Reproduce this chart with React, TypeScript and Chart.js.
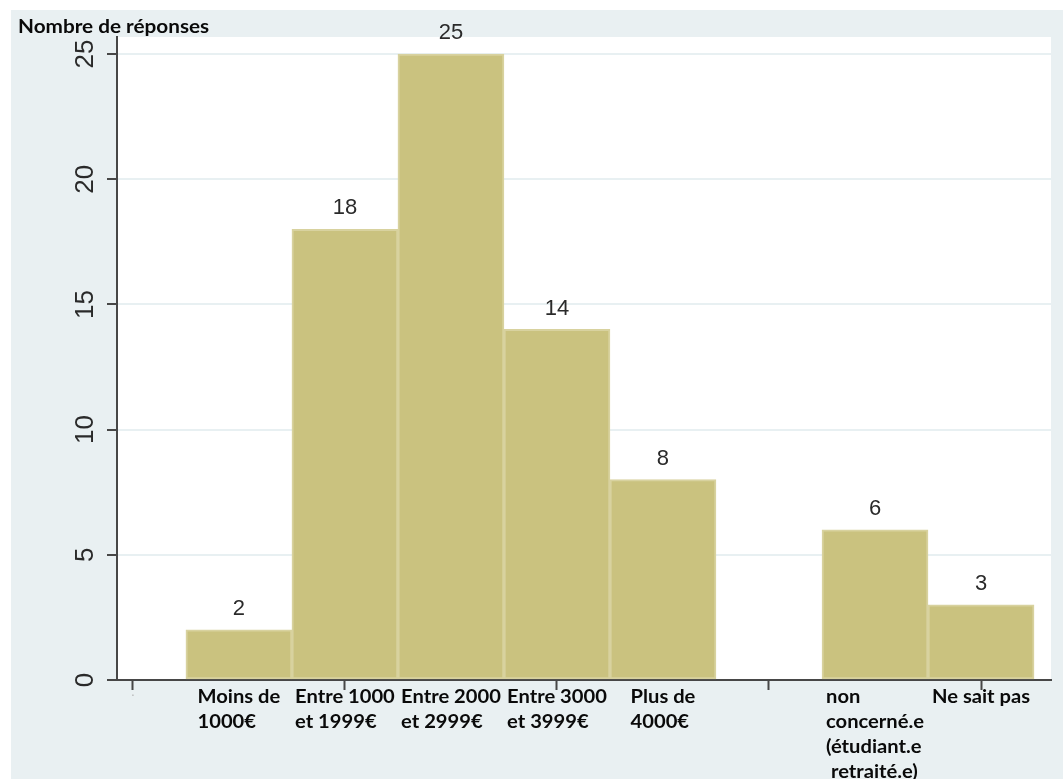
import React, { useEffect, useRef } from 'react';
import { Chart, registerables } from 'chart.js';

Chart.register(...registerables);

// ---- Data ----
const categoryLabels: string[][] = [
  ['Moins de', '1000€'],
  ['Entre 1000', 'et 1999€'],
  ['Entre 2000', 'et 2999€'],
  ['Entre 3000', 'et 3999€'],
  ['Plus de', '4000€'],
  ['non', 'concerné.e', '(étudiant.e', ' retraité.e)'],
  ['Ne sait pas'],
];
const barPositions = [1, 2, 3, 4, 5, 7, 8];
const responseCounts = [2, 18, 25, 14, 8, 6, 3];
const yTickValues = [0, 5, 10, 15, 20, 25];
const xTickValues = [0, 2, 4, 6, 8];
const xTickLabels = ['.', '', '', '', ''];
const yAxisTitle = 'Nombre de réponses';

// ---- Styles ----
const OUTER_BG = '#e9f0f2';
const GRID = '#e8f0f2';
const AXIS = '#474747';
const BAR_FILL = '#cac27f';
const BAR_BORDER = '#d8d29f';
const LABEL_FONT = '"Lato", "Open Sans", sans-serif';
const VALUE_FONT = '"Liberation Sans", Arial, sans-serif';
const STRETCH = 1.12;

function drawStretched(ctx: CanvasRenderingContext2D, text: string, x: number, y: number, sx: number) {
  ctx.save();
  ctx.translate(x, y);
  ctx.scale(sx, 1);
  ctx.fillText(text, 0, 0);
  ctx.restore();
}

const decorPlugin = {
  id: 'decor',
  beforeDraw(chart: any) {
    const { ctx, chartArea, width, height } = chart;
    ctx.save();
    ctx.fillStyle = '#ffffff';
    ctx.fillRect(0, 0, width, height);
    ctx.fillStyle = OUTER_BG;
    ctx.fillRect(11, 10, width - 11, height - 10);
    ctx.fillStyle = '#ffffff';
    ctx.fillRect(chartArea.left, chartArea.top, chartArea.right - chartArea.left, chartArea.bottom - chartArea.top);
    ctx.restore();
  },
  afterDatasetsDraw(chart: any) {
    const { ctx } = chart;
    const meta = chart.getDatasetMeta(0);
    ctx.save();
    ctx.fillStyle = '#2a2a2a';
    ctx.font = `22px ${VALUE_FONT}`;
    ctx.textAlign = 'center';
    ctx.textBaseline = 'middle';
    meta.data.forEach((bar: any, i: number) => {
      ctx.fillText(String(responseCounts[i]), bar.x, bar.y - 21);
    });
    ctx.restore();
  },
  afterDraw(chart: any) {
    const { ctx } = chart;
    const xs = chart.scales.x;
    const ys = chart.scales.y;
    ctx.save();
    // y tick labels (rotated)
    ctx.fillStyle = '#2a2a2a';
    ctx.font = `26px ${VALUE_FONT}`;
    ctx.textAlign = 'center';
    ctx.textBaseline = 'middle';
    yTickValues.forEach((v) => {
      const y = ys.getPixelForValue(v);
      ctx.save();
      ctx.translate(86, y);
      ctx.rotate(-Math.PI / 2);
      ctx.fillText(String(v), 0, 0);
      ctx.restore();
    });
    // x tick labels
    ctx.fillStyle = '#b0b0b0';
    ctx.font = `12px ${VALUE_FONT}`;
    xTickValues.forEach((v, i) => {
      if (xTickLabels[i]) ctx.fillText(xTickLabels[i], xs.getPixelForValue(v), 693);
    });
    // axis title
    ctx.fillStyle = '#0a0a0a';
    ctx.font = `bold 18.5px ${LABEL_FONT}`;
    ctx.textAlign = 'left';
    ctx.textBaseline = 'middle';
    drawStretched(ctx, yAxisTitle, 18, 27, STRETCH);
    // category labels
    ctx.font = `bold 18px ${LABEL_FONT}`;
    categoryLabels.forEach((lines, i) => {
      const cx = xs.getPixelForValue(barPositions[i]);
      const w = Math.max(...lines.map((l) => ctx.measureText(l).width)) * STRETCH;
      const left = cx - w / 2;
      lines.forEach((line, j) => {
        drawStretched(ctx, line, left, 697 + j * 25, STRETCH);
      });
    });
    ctx.restore();
  },
};

export default function App() {
  const canvasRef = useRef<HTMLCanvasElement | null>(null);

  useEffect(() => {
    if (!canvasRef.current) return;
    const chart = new Chart(canvasRef.current, {
      type: 'bar',
      data: {
        datasets: [
          {
            data: barPositions.map((x, i) => ({ x, y: responseCounts[i] })),
            backgroundColor: BAR_FILL,
            borderColor: BAR_BORDER,
            borderWidth: 2,
            borderSkipped: false,
            barPercentage: 1,
            categoryPercentage: 1,
          } as any,
        ],
      },
      options: {
        animation: false,
        responsive: false,
        devicePixelRatio: 1,
        layout: { padding: { left: 0, right: 12, top: 37, bottom: 0 } },
        plugins: { legend: { display: false }, tooltip: { enabled: false } },
        scales: {
          x: {
            type: 'linear',
            min: -0.15,
            max: 8.66,
            offset: false,
            afterBuildTicks: (s: any) => {
              s.ticks = xTickValues.map((v) => ({ value: v }));
            },
            afterFit: (s: any) => {
              s.height = 99;
            },
            ticks: { display: false },
            grid: {
              offset: false,
              drawOnChartArea: false,
              drawTicks: true,
              tickLength: 10,
              tickColor: AXIS,
              tickWidth: 2,
            },
            border: { color: AXIS, width: 2 },
          } as any,
          y: {
            type: 'linear',
            min: 0,
            max: 25.68,
            afterBuildTicks: (s: any) => {
              s.ticks = yTickValues.map((v) => ({ value: v }));
            },
            afterFit: (s: any) => {
              s.width = 117;
            },
            ticks: { display: false },
            grid: {
              color: GRID,
              lineWidth: 2,
              drawTicks: true,
              tickLength: 10,
              tickColor: AXIS,
              tickWidth: 2,
            },
            border: { color: AXIS, width: 2 },
          } as any,
        },
      },
      plugins: [decorPlugin],
    });
    return () => chart.destroy();
  }, []);

  return (
    <div style={{ position: 'absolute', left: 0, top: 0, width: 1063, height: 779 }}>
      <canvas ref={canvasRef} width={1063} height={779} />
    </div>
  );
}
